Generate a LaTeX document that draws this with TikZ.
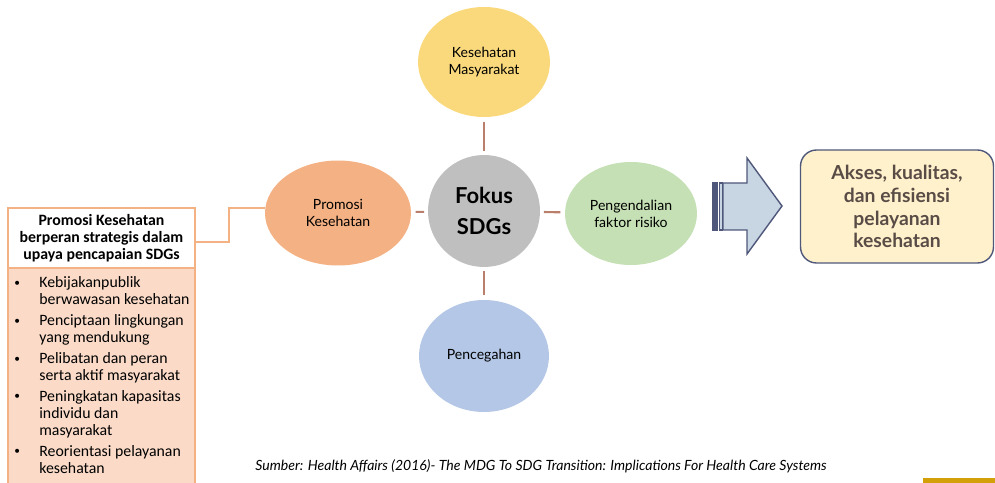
\documentclass[tikz,border=0pt]{standalone}
\usepackage{fontspec}
\setmainfont{Carlito}
\newfontfamily\gill{Lato}
\definecolor{sdg_yellow}{RGB}{250, 217, 125}
\definecolor{sdg_orange}{RGB}{244, 177, 131}
\definecolor{sdg_grey}{RGB}{191, 191, 191}
\definecolor{sdg_green}{RGB}{197, 224, 180}
\definecolor{sdg_blue}{RGB}{180, 199, 231}
\definecolor{sdg_spoke}{RGB}{185, 127, 106}
\definecolor{sdg_peach}{RGB}{251, 219, 200}
\definecolor{sdg_arrow}{RGB}{200, 213, 227}
\definecolor{sdg_navy}{RGB}{79, 88, 122}
\definecolor{sdg_cream}{RGB}{255, 241, 204}
\definecolor{sdg_text}{RGB}{89, 76, 70}
\definecolor{sdg_bar}{RGB}{212, 160, 9}
\usetikzlibrary{positioning, shapes.geometric, calc}
\newcommand{\sdgdot}{\raisebox{0.15ex}{\fontsize{6.5}{6.5}\selectfont\textbullet}}

\begin{document}
\begin{tikzpicture}[x=0.02cm, y=-0.02cm,
  bubble/.style={ellipse, inner sep=0pt, align=center, font=\gill\fontsize{8}{9.7}\selectfont},
  spoke/.style={draw=sdg_spoke, line width=1.2pt, shorten <=2pt, shorten >=2.5pt}]
  \useasboundingbox (0,0) rectangle (995,483);

  \node[bubble, fill=sdg_yellow, minimum width=2.64cm, minimum height=2.2cm] (masy) at (484,62) {Kesehatan\\Masyarakat};
  \node[bubble, fill=sdg_orange, minimum width=2.92cm, minimum height=2.1cm] (promo) at (338,213) {Promosi\\Kesehatan};
  \node[bubble, fill=sdg_green, minimum width=2.64cm, minimum height=2.06cm] (risk) at (631,213.5) {Pengendalian\\faktor risiko};
  \node[bubble, fill=sdg_blue, minimum width=2.6cm, minimum height=2.24cm] (prev) at (484,356) {Pencegahan};
  \node[circle, fill=sdg_grey, minimum size=2.24cm, inner sep=0pt, align=center,
        font=\gill\bfseries\fontsize{12.5}{18}\selectfont] (fokus) at (484,211) {Fokus\\SDGs};
  \foreach \n in {masy, promo, risk, prev} {
    \draw[spoke] (fokus) -- (\n);
  }

  \fill[sdg_peach] (8,268) rectangle (195,483);
  \draw[sdg_orange, line width=1.2pt] (8,483) -- (8,268) -- (195,268) -- (195,483);
  \node[anchor=north west, inner sep=0pt, font=\fontsize{9}{9.7}\selectfont] (list) at (14,275) {%
    \def\arraystretch{1.0}%
    \begin{tabular}{@{}p{0.5cm}@{}l@{}}
      \sdgdot & Kebijakanpublik\\
              & berwawasan kesehatan\\[2.2pt]
      \sdgdot & Penciptaan lingkungan\\
              & yang mendukung\\[2.2pt]
      \sdgdot & Pelibatan dan peran\\
              & serta aktif masyarakat\\[2.2pt]
      \sdgdot & Peningkatan kapasitas\\
              & individu dan\\
              & masyarakat\\[2.2pt]
      \sdgdot & Reorientasi pelayanan\\
              & kesehatan
    \end{tabular}};
  \node[draw=sdg_orange, line width=1.2pt, fill=white, minimum width=3.74cm, minimum height=1.2cm,
        inner sep=0pt, align=center, font=\bfseries\fontsize{9}{9.7}\selectfont] (head) at (101.5,238)
        {Promosi Kesehatan\\berperan strategis dalam\\upaya pencapaian SDGs};
  \draw[sdg_orange, line width=1.5pt] ($(head.east)+(0,4)$) -- ++(33,0) |- ($(promo.west)+(0,-5)$);

  \filldraw[draw=sdg_navy, fill=sdg_navy, line width=0.6pt] (713,183) rectangle (717.5,230);
  \filldraw[draw=sdg_navy, fill=sdg_arrow, line width=0.6pt] (719.5,183) rectangle (722.5,230);
  \filldraw[draw=sdg_navy, fill=sdg_arrow, line width=0.8pt]
    (723,183) -- (747,183) -- (747,158) -- (782,206) -- (747,254) -- (747,230) -- (723,230) -- cycle;

  \node[draw=sdg_navy, line width=0.8pt, fill=sdg_cream, rounded corners=0.32cm, minimum width=3.86cm,
        minimum height=2.26cm, align=center, text=sdg_text,
        font=\gill\bfseries\fontsize{11}{13}\selectfont] (goal) at (897,206.5)
        {Akses, kualitas,\\dan efisiensi\\pelayanan\\kesehatan};

  \node[font=\gill\itshape\fontsize{8}{9}\selectfont] (src) at (541,466)
    {Sumber: Health Affairs (2016)- The MDG To SDG Transition: Implications For Health Care Systems};
  \fill[sdg_bar] (923,478) rectangle (995,483);
\end{tikzpicture}
\end{document}
